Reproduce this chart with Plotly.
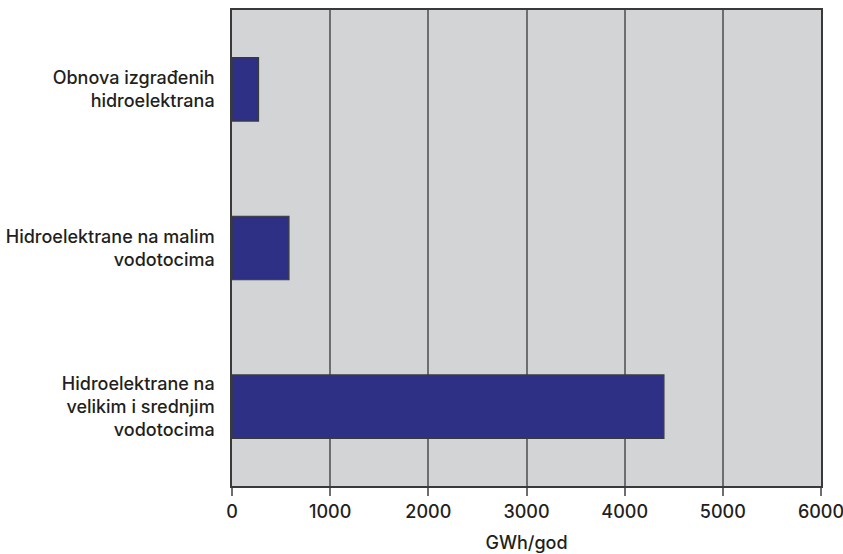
import plotly.graph_objects as go

# Hydro potential by plant type (GWh per year)
categories = [
    "Obnova izgrađenih<br>hidroelektrana",
    "Hidroelektrane na malim<br>vodotocima",
    "Hidroelektrane na<br>velikim i srednjim<br>vodotocima",
]
values = [270, 580, 4400]
x_ticks = [0, 1000, 2000, 3000, 4000, 5000, 6000]

font_family = "Inter, Liberation Sans, Arial, sans-serif"
text_color = "#231f20"
label_font = dict(family=font_family, size=18, color=text_color, weight=500)

fig = go.Figure(
    go.Bar(
        x=values,
        y=categories,
        orientation="h",
        width=0.4,
        marker=dict(color="#2e3086", line=dict(color="#3a3a3a", width=1.2)),
        hoverinfo="x+y",
    )
)

fig.update_layout(
    width=843,
    height=554,
    margin=dict(l=232, r=22, t=10, b=68),
    paper_bgcolor="white",
    plot_bgcolor="#d3d4d6",
    showlegend=False,
    font=label_font,
    bargap=0.6,
)

fig.update_xaxes(
    range=[0, 6000],
    tickvals=x_ticks,
    ticktext=[str(v) for v in x_ticks],
    showgrid=True,
    gridcolor="#6d6e71",
    gridwidth=1.5,
    zeroline=False,
    showline=True,
    linecolor="#3a3a3a",
    linewidth=1.5,
    mirror=True,
    ticks="outside",
    ticklen=8,
    tickwidth=1.5,
    tickcolor="#6d6e71",
    ticklabelstandoff=1,
    ticklabeloverflow="allow",
    tickfont=label_font,
    automargin=False,
    title=dict(text="GWh/god", font=label_font, standoff=15),
)

fig.update_yaxes(
    autorange="reversed",
    showgrid=False,
    zeroline=False,
    showline=True,
    linecolor="#3a3a3a",
    linewidth=1.5,
    mirror=True,
    ticks="",
    ticklabelstandoff=12,
    tickfont=label_font,
    automargin=False,
)

fig.write_html("out.html")
